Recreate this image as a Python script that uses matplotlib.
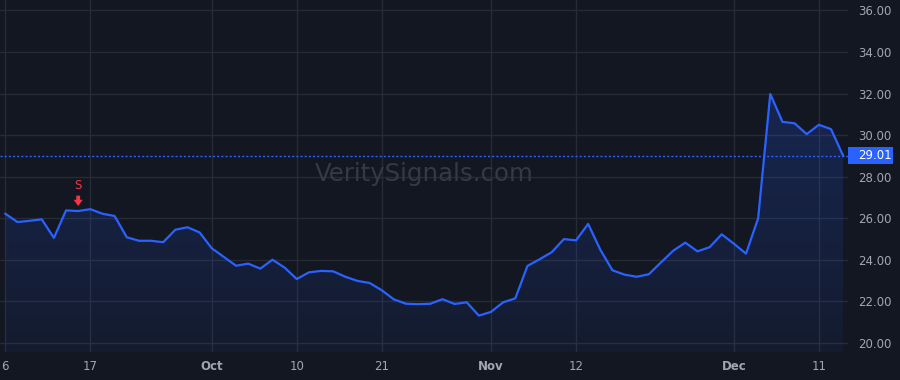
import numpy as np
import matplotlib
matplotlib.use('Agg')
import matplotlib.pyplot as plt
from matplotlib.patches import Polygon, Rectangle
import matplotlib.transforms as mtransforms

# ---- data: daily closes, one per trading day (6 Sep -> 13 Dec) ----
values = [26.22, 25.82, 25.88, 25.95, 25.06, 26.38, 26.35, 26.44, 26.22, 26.11,
          25.09, 24.92, 24.92, 24.85, 25.45, 25.57, 25.32, 24.56, 24.14, 23.72,
          23.82, 23.58, 24.01, 23.63, 23.08, 23.40, 23.47, 23.45, 23.19, 22.99,
          22.89, 22.54, 22.10, 21.89, 21.87, 21.89, 22.11, 21.88, 21.96, 21.32,
          21.50, 21.96, 22.15, 23.71, 24.03, 24.37, 25.00, 24.94, 25.73, 24.49,
          23.50, 23.29, 23.19, 23.31, 23.88, 24.44, 24.83, 24.41, 24.61, 25.23,
          24.78, 24.30, 26.00, 31.98, 30.64, 30.57, 30.05, 30.50, 30.29, 29.01]
tick_idx = [0, 7, 17, 24, 31, 40, 47, 60, 67]
tick_labels = ['6', '17', 'Oct', '10', '21', 'Nov', '12', 'Dec', '11']
month_labels = {'Oct', 'Nov', 'Dec'}
price_ticks = [20, 22, 24, 26, 28, 30, 32, 34, 36]
signal_idx = 6
signal_text = 'S'
last_price = 29.01
watermark = 'VeritySignals.com'

BG = '#131722'
GRID = '#272b36'
TXT = '#a3a6af'
BLUE = '#2962ff'
RED = '#f23645'

x = np.arange(len(values))
y = np.array(values)

fig = plt.figure(figsize=(9, 3.8), dpi=100, facecolor=BG)
ax = fig.add_axes([0, 28 / 380, 848 / 900, 352 / 380])
ax.set_facecolor(BG)
XLIM = (-0.44, 69.4)
YLIM = (19.57, 36.5)

# grid
for t in price_ticks:
    ax.axhline(t, color=GRID, lw=1, zorder=0)
for t in tick_idx:
    ax.axvline(t, color=GRID, lw=1, zorder=0)

# gradient fill under the line
grad = np.linspace(0, 1, 256).reshape(-1, 1)
cmap = matplotlib.colors.LinearSegmentedColormap.from_list(
    'fill', [(0.16, 0.38, 1.0, 0.06), (0.16, 0.38, 1.0, 0.22)])
im = ax.imshow(grad, extent=[x[0], x[-1], YLIM[0], 32.5], origin='lower',
               aspect='auto', cmap=cmap, zorder=1)
poly = Polygon(np.column_stack([np.r_[x, x[-1], x[0]], np.r_[y, YLIM[0], YLIM[0]]]),
               closed=True, transform=ax.transData)
im.set_clip_path(poly)
ax.set_xlim(*XLIM)
ax.set_ylim(*YLIM)

ax.plot(x, y, color=BLUE, lw=1.6, zorder=3, solid_joinstyle='round')

# last price line
ax.axhline(last_price, color=BLUE, lw=1, ls=(0, (1.5, 1.5)), zorder=2)

# signal marker
ax.annotate('', xy=(signal_idx, y[signal_idx] + 0.24), xytext=(signal_idx, y[signal_idx] + 0.74),
            arrowprops=dict(arrowstyle='simple,head_width=0.65,head_length=0.45,tail_width=0.28',
                            mutation_scale=10, color=RED, lw=0, shrinkA=0, shrinkB=0),
            zorder=4)
ax.text(signal_idx, y[signal_idx] + 0.9, signal_text, color=RED, fontsize=8.5,
        ha='center', va='bottom', zorder=4)

# watermark
ax.text(0.5, 0.505, watermark, transform=ax.transAxes, color='#353945',
        fontsize=17.6, ha='center', va='center', zorder=1)

# axes
ax.set_xticks(tick_idx)
ax.set_xticklabels(tick_labels)
for lab in ax.get_xticklabels():
    if lab.get_text() in month_labels:
        lab.set_fontweight('bold')
ax.set_yticks(price_ticks)
ax.set_yticklabels([f'{t:.2f}' for t in price_ticks])
ax.yaxis.tick_right()
ax.tick_params(axis='both', length=0, colors=TXT, labelsize=8.5)
ax.tick_params(axis='x', pad=6)
ax.tick_params(axis='y', pad=7.5)
for s in ax.spines.values():
    s.set_visible(False)

# last price label
trans = mtransforms.blended_transform_factory(ax.transAxes, ax.transData)
half = 8.5 / 20.8
ax.add_patch(Rectangle((1.0, last_price - half), 45 / 848, 2 * half, transform=trans,
                       facecolor=BLUE, edgecolor='none', clip_on=False, zorder=5))
ax.text(1.0118, last_price, f'{last_price:.2f}', transform=trans, color='white',
        fontsize=8.5, ha='left', va='center', zorder=6, clip_on=False)

fig.savefig('out.png', dpi=100, facecolor=BG)
